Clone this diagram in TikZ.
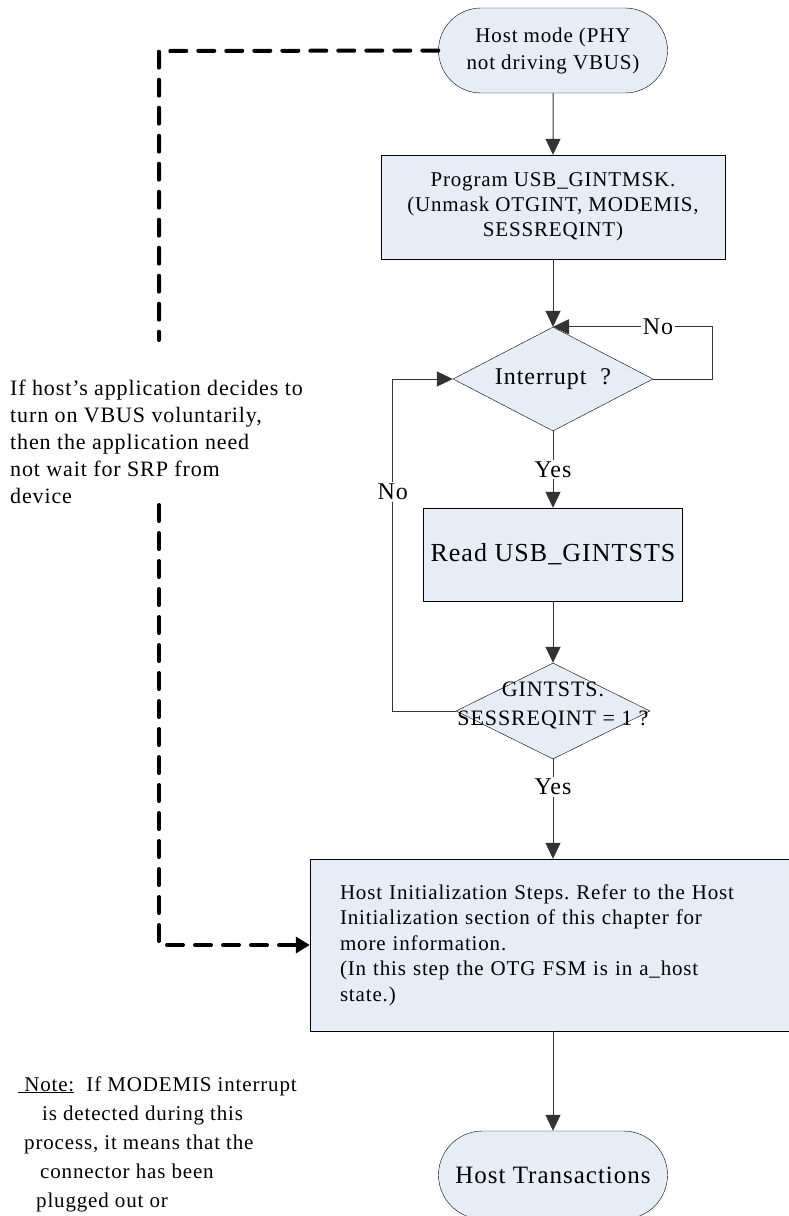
\documentclass[tikz,border=0pt]{standalone}
\usepackage{fontspec}
\setmainfont{Liberation Serif}[LetterSpace=4]
\usetikzlibrary{arrows.meta,calc,positioning,shapes.geometric,shapes.misc}
\definecolor{flowblue}{RGB}{230,237,247}
\tikzset{
  terminal/.style={
    rounded rectangle,
    draw=black,
    fill=flowblue,
    align=center,
    inner sep=0pt,
    font=\fontsize{21}{27}\selectfont
  },
  stepbox/.style={
    rectangle,
    draw=black,
    fill=flowblue,
    align=center,
    inner sep=0pt,
    font=\fontsize{21}{25}\selectfont
  },
  decision/.style={
    diamond,
    draw=black,
    fill=flowblue,
    aspect=2,
    inner sep=0pt,
    align=center,
    font=\fontsize{24}{28}\selectfont
  },
  arrow/.style={
    -{Triangle[length=16pt,width=15pt]},
    line width=1pt,
    black!80
  },
  dasharrow/.style={
    line width=4pt,
    dash pattern=on 16pt off 12pt,
    line cap=round
  },
  tag/.style={
    fill=white,
    text=black,
    inner sep=2pt,
    font=\fontsize{24}{28}\selectfont
  },
  note/.style={
    align=left,
    inner sep=0pt,
    font=\fontsize{22}{27}\selectfont
  }
}

\begin{document}
\frenchspacing
\begin{tikzpicture}[x=1pt,y=-1pt]
\path[use as bounding box] (0,0) rectangle (789,1216);
\clip (0,0) rectangle (789,1216);
\node[terminal, minimum width=229pt, minimum height=85pt] (start) at (553,50.5) {Host mode (PHY\\not driving VBUS)};
\node[stepbox, minimum width=344pt, minimum height=104pt] (mask) at (553,207) {Program USB\_GINTMSK.\\(Unmask OTGINT, MODEMIS,\\SESSREQINT)};
\node[decision, minimum width=200pt, minimum height=104pt] (irq) at (553,379) {Interrupt\ \ ?};
\node[stepbox, minimum width=259pt, minimum height=93pt, font=\fontsize{26}{30}\selectfont] (read) at (553,554.5) {Read USB\_GINTSTS};
\node[decision, minimum width=194pt, minimum height=96pt,
  label={[align=center, font=\fontsize{22}{29}\selectfont, yshift=6pt]center:GINTSTS.\\SESSREQINT = 1 ?}] (sess) at (553,711) {};
\node[stepbox, minimum width=486pt, minimum height=172pt, align=left, text width=426pt, inner xsep=30pt, font=\fontsize{21}{25.5}\selectfont] (init) at (553,945) {Host Initialization Steps. Refer to the Host\\Initialization section of this chapter for\\more information.\\(In this step the OTG FSM is in a\_host\\state.)};
\node[terminal, minimum width=229pt, minimum height=88pt, font=\fontsize{25}{30}\selectfont] (trans) at (553,1175) {Host Transactions};
\node[note, anchor=north west] (hint) at (10,380) {If host’s application decides to\\turn on VBUS voluntarily,\\then the application need\\not wait for SRP from\\device};
\node[note, anchor=north west, font=\fontsize{21}{29}\selectfont] (memo) at (18,1076) {\underline{\ Note:}\ \ If MODEMIS interrupt\\\hspace*{24pt}is detected during this\\\hspace*{6pt}process, it means that the\\\hspace*{22pt}connector has been\\\hspace*{18pt}plugged out or};
\coordinate (dnw) at (159,51);
\coordinate (dtop) at (159,340);
\coordinate (dbot) at (159,505);
\coordinate (dsw) at (159,945);
\draw[arrow] (start) -- (mask);
\draw[arrow] (mask) -- (irq);
\draw[arrow] (irq) -- node[tag]{Yes} (read);
\draw[arrow] (read) -- (sess);
\draw[arrow] (sess) -- node[tag, pos=0.28]{Yes} (init);
\draw[arrow] (init) -- (trans);
\draw[arrow] (irq.east) -- ++(59,0) |- node[tag, pos=0.67]{No} (irq.north);
\draw[arrow] (sess.west) -- ++(-63,0) |- node[tag, pos=0.33]{No} (irq.west);
\draw[dasharrow] (start.west) -- (dnw) -- (dtop);
\draw[dasharrow, -{Triangle[length=14pt,width=16pt]}] (dbot) -- (dsw) -- (init.west);
\end{tikzpicture}
\end{document}
